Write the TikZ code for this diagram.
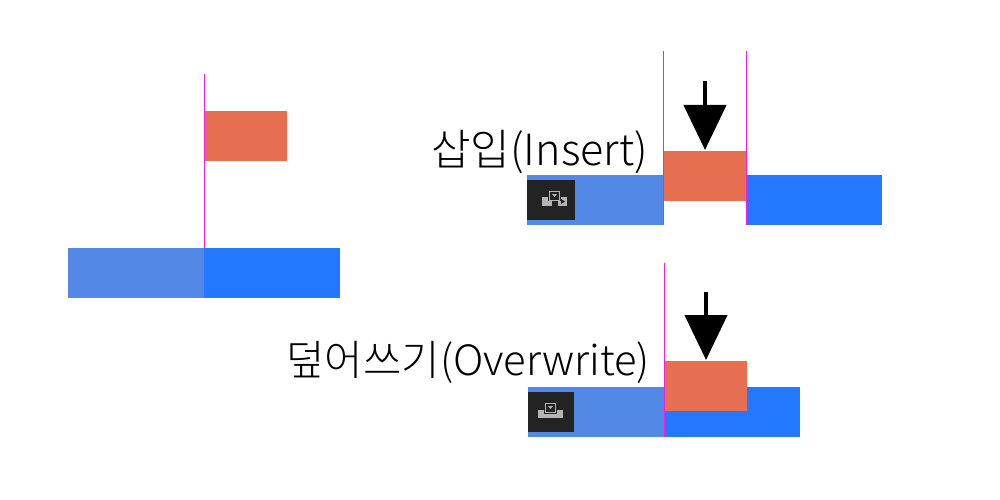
\documentclass[tikz,border=0pt]{standalone}
\usepackage{fontspec}
\setmainfont{Noto Sans CJK KR}[UprightFont=* Light]
\usetikzlibrary{arrows.meta}

\definecolor{clipA}{HTML}{5288E6}
\definecolor{clipB}{HTML}{2378FF}
\definecolor{clipC}{HTML}{E76F51}
\definecolor{playhead}{HTML}{F21FDC}
\definecolor{iconbg}{HTML}{232323}
\definecolor{icongray}{HTML}{B4B4B4}

\tikzset{
    clip/.style={anchor=north west,inner sep=0pt,outer sep=0pt,minimum height=50pt},
    cliplight/.style={clip,fill=clipA,minimum width=136pt},
    clipdark/.style={clip,fill=clipB},
    clipnew/.style={clip,fill=clipC,minimum width=82pt},
    iconbox/.style={anchor=north west,inner sep=0pt,outer sep=0pt,fill=iconbg,minimum height=40pt},
    headline/.style={draw=playhead,line width=1.4pt},
    droparrow/.style={draw=black,line width=4.5pt,-{Triangle[width=42pt,length=45pt]},shorten >=1pt},
    caption/.style={anchor=base east,inner sep=0pt}
}

\begin{document}
\begin{tikzpicture}[x=1pt,y=-1pt]

    \useasboundingbox (0,0) rectangle (1000,500);

    % before
    \node[cliplight]                  (a1) at (68,248)  {};
    \node[clipdark,minimum width=136pt] (a2) at (204,248) {};
    \node[clipnew]                    (a3) at (205,111) {};
    \coordinate (atop) at (204.5,74);
    \draw[headline] (atop) -- (atop |- a2.north);

    % insert
    \node[cliplight]                  (b1) at (527,175) {};
    \node[clipdark,minimum width=135pt] (b2) at (747,175) {};
    \node[clipnew]                    (b3) at (664,151) {};
    \node[iconbox,minimum width=48pt] (b4) at (527,180) {};
    \coordinate (btopl) at (663.5,51);
    \coordinate (btopr) at (746.5,51);
    \coordinate (bstart) at (705,81);
    \draw[headline] (btopl) -- (btopl |- b1.south);
    \draw[headline] (btopr) -- (btopr |- b1.south);
    \draw[droparrow] (bstart) -- (bstart |- b3.north);
    \node[caption,font=\fontsize{43}{43}\selectfont] (b5) at (648,165) {삽입(Insert)};

    % insert icon
    \fill[icongray] (542,197) rectangle (552,206);
    \fill[icongray] (558,197) rectangle (567,206);
    \fill[iconbg] (561,199) -- (565,201.5) -- (561,204) -- cycle;
    \fill[iconbg] (548,190) rectangle (561,201);
    \draw[icongray,line width=1pt] (549.5,191.5) rectangle (559.5,200);
    \fill[icongray] (552,194) -- (557,194) -- (554.5,197) -- cycle;

    % overwrite
    \node[cliplight]                  (c1) at (528,387) {};
    \node[clipdark,minimum width=136pt] (c2) at (664,387) {};
    \node[clipnew]                    (c3) at (665,361) {};
    \node[iconbox,minimum width=46pt] (c4) at (528,392) {};
    \coordinate (ctopl) at (664.5,263);
    \coordinate (cstart) at (706,292);
    \draw[headline] (ctopl) -- (ctopl |- c1.south);
    \draw[droparrow] (cstart) -- (cstart |- c3.north);
    \node[caption,font=\fontsize{41.7}{42}\selectfont] (c5) at (650,375) {덮어쓰기(Overwrite)};

    % overwrite icon
    \fill[icongray] (538,410) rectangle (563,418);
    \fill[iconbg] (544,402) rectangle (557,414);
    \draw[icongray,line width=1pt] (545.5,403.5) rectangle (555.5,412);
    \fill[icongray] (548,406) -- (553,406) -- (550.5,409) -- cycle;

\end{tikzpicture}
\end{document}
